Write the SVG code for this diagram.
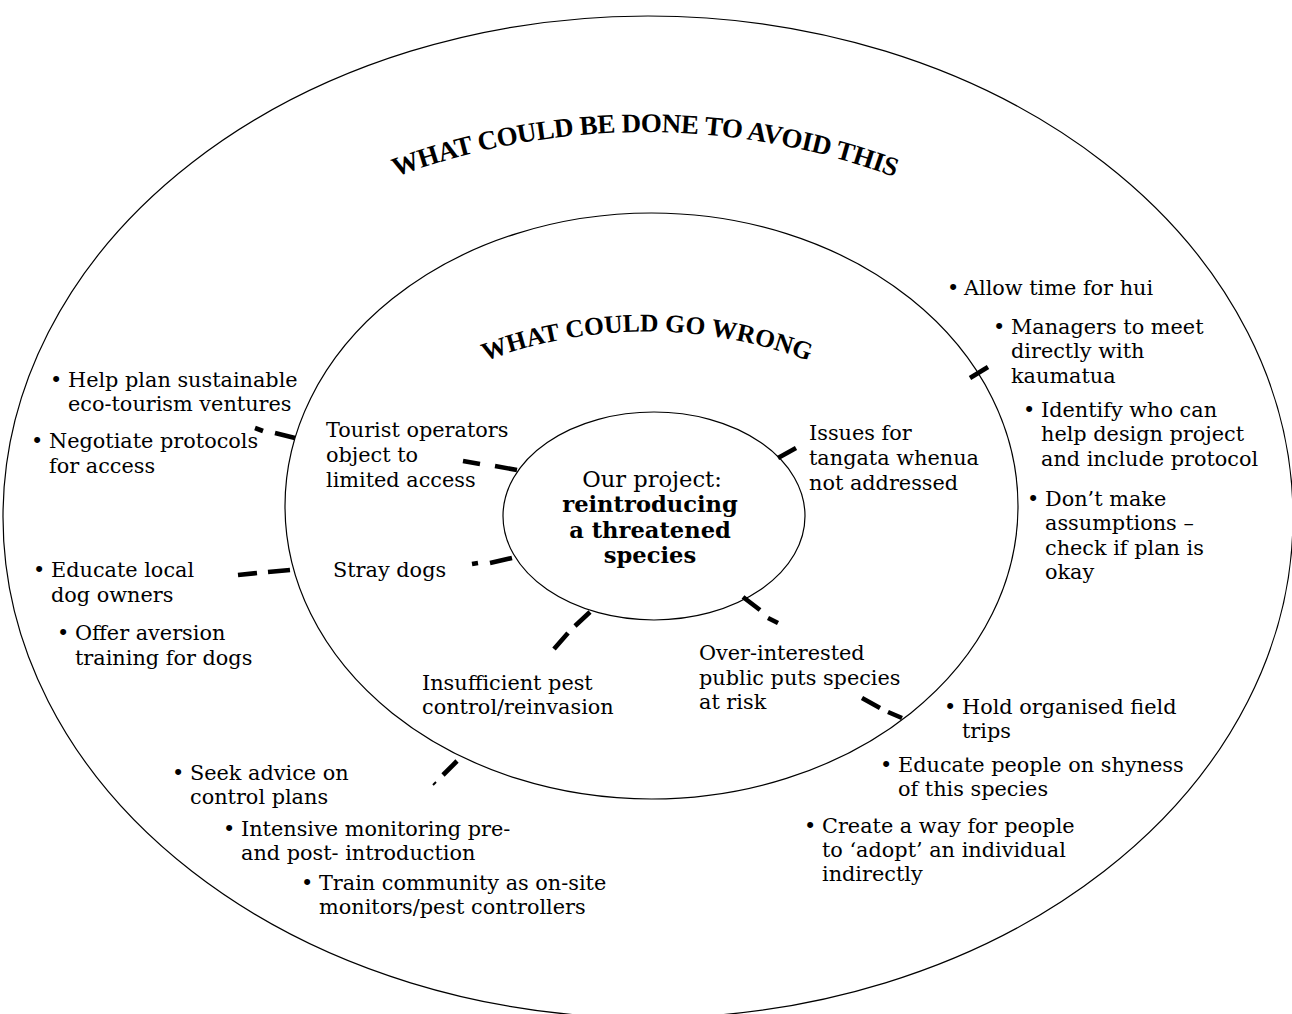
<svg xmlns="http://www.w3.org/2000/svg" width="1292" height="1014" viewBox="0 0 1292 1014">
<style>
.ring{fill:none;stroke:#000;stroke-width:1.2}
.t{font-family:"DejaVu Serif","Liberation Serif",serif;font-size:20.8px;fill:#000}
.c{text-anchor:middle;font-size:22.6px}
.bd{font-weight:bold}
.title{font-family:"Liberation Serif","DejaVu Serif",serif;font-weight:bold;fill:#000}
.dash{fill:none;stroke:#000;stroke-width:4.6;stroke-linecap:butt}
</style>
<defs>
<path id="arcOuter" d="M380,183 A715,715 0 0 1 910,183"/>
<path id="arcInner" d="M470,367 A460,460 0 0 1 824,367"/>
</defs>
<rect width="1292" height="1014" fill="#fff"/>

<g id="outer-ring">
<ellipse class="ring" cx="648" cy="517" rx="645" ry="501"/>
<text class="title" font-size="27" letter-spacing="-0.4"><textPath href="#arcOuter" startOffset="50%" text-anchor="middle">WHAT COULD BE DONE TO AVOID THIS</textPath></text>
</g>
<g id="middle-ring">
<ellipse class="ring" cx="651.5" cy="506" rx="366.5" ry="293"/>
<text class="title" font-size="25.5"><textPath href="#arcInner" startOffset="50%" text-anchor="middle">WHAT COULD GO WRONG</textPath></text>
</g>
<g id="center">
<ellipse class="ring" cx="654" cy="516" rx="151" ry="104"/>
<text class="t c" x="652" y="487">Our project:</text>
<text class="t c bd" x="650" y="512">reintroducing</text>
<text class="t c bd" x="650" y="538">a threatened</text>
<text class="t c bd" x="650" y="563">species</text>
</g>

<g id="connectors">
<path class="dash" d="M295,438 L275,433 M263,431 L255,428"/>
<path class="dash" d="M517,470 L495,466 M480,464 L463,461"/>
<path class="dash" d="M290,570 L268,572 M257,573 L238,575"/>
<path class="dash" d="M512,558 L490,563 M478,563 L472,564"/>
<path class="dash" d="M778,458 L796,448"/>
<path class="dash" d="M970,378 L988,367"/>
<path class="dash" d="M590,612 L575,626 M568,633 L554,649"/>
<path class="dash" d="M457,761 L443,775"/>
<path d="M436,782 L433,785" fill="none" stroke="#000" stroke-width="2"/>
<path class="dash" d="M743,597 L760,610 M768,618 L778,623"/>
<path class="dash" d="M862,698 L880,708 M888,712 L902,718"/>
</g>

<g id="problem-tourism"><text class="t" x="326" y="437">Tourist operators</text><text class="t" x="326" y="462">object to</text><text class="t" x="326" y="487">limited access</text></g>
<g id="problem-tangata"><text class="t" x="809" y="440">Issues for</text><text class="t" x="809" y="465">tangata whenua</text><text class="t" x="809" y="490">not addressed</text></g>
<g id="problem-dogs"><text class="t" x="333" y="577">Stray dogs</text></g>
<g id="problem-pests"><text class="t" x="422" y="690">Insufficient pest</text><text class="t" x="422" y="714">control/reinvasion</text></g>
<g id="problem-public"><text class="t" x="699" y="660">Over-interested</text><text class="t" x="699" y="685">public puts species</text><text class="t" x="699" y="709">at risk</text></g>

<g id="avoid-tourism">
<text class="t" x="50" y="387">•</text><text class="t" x="68" y="387">Help plan sustainable</text><text class="t" x="68" y="411">eco-tourism ventures</text>
<text class="t" x="31" y="448">•</text><text class="t" x="49" y="448">Negotiate protocols</text><text class="t" x="49" y="473">for access</text>
</g>
<g id="avoid-dogs">
<text class="t" x="33" y="577">•</text><text class="t" x="51" y="577">Educate local</text><text class="t" x="51" y="602">dog owners</text>
<text class="t" x="57" y="640">•</text><text class="t" x="75" y="640">Offer aversion</text><text class="t" x="75" y="665">training for dogs</text>
</g>
<g id="avoid-tangata">
<text class="t" x="947" y="295">•</text><text class="t" x="964" y="295">Allow time for hui</text>
<text class="t" x="993" y="334">•</text><text class="t" x="1011" y="334">Managers to meet</text><text class="t" x="1011" y="358">directly with</text><text class="t" x="1011" y="383">kaumatua</text>
<text class="t" x="1023" y="417">•</text><text class="t" x="1041" y="417">Identify who can</text><text class="t" x="1041" y="441">help design project</text><text class="t" x="1041" y="466">and include protocol</text>
<text class="t" x="1027" y="506">•</text><text class="t" x="1045" y="506">Don’t make</text><text class="t" x="1045" y="530">assumptions –</text><text class="t" x="1045" y="555">check if plan is</text><text class="t" x="1045" y="579">okay</text>
</g>
<g id="avoid-pests">
<text class="t" x="172" y="780">•</text><text class="t" x="190" y="780">Seek advice on</text><text class="t" x="190" y="804">control plans</text>
<text class="t" x="223" y="836">•</text><text class="t" x="241" y="836">Intensive monitoring pre-</text><text class="t" x="241" y="860">and post- introduction</text>
<text class="t" x="301" y="890">•</text><text class="t" x="319" y="890">Train community as on-site</text><text class="t" x="319" y="914">monitors/pest controllers</text>
</g>
<g id="avoid-public">
<text class="t" x="944" y="714">•</text><text class="t" x="962" y="714">Hold organised field</text><text class="t" x="962" y="738">trips</text>
<text class="t" x="880" y="772">•</text><text class="t" x="898" y="772">Educate people on shyness</text><text class="t" x="898" y="796">of this species</text>
<text class="t" x="804" y="833">•</text><text class="t" x="822" y="833">Create a way for people</text><text class="t" x="822" y="857">to ‘adopt’ an individual</text><text class="t" x="822" y="881">indirectly</text>
</g>
</svg>
